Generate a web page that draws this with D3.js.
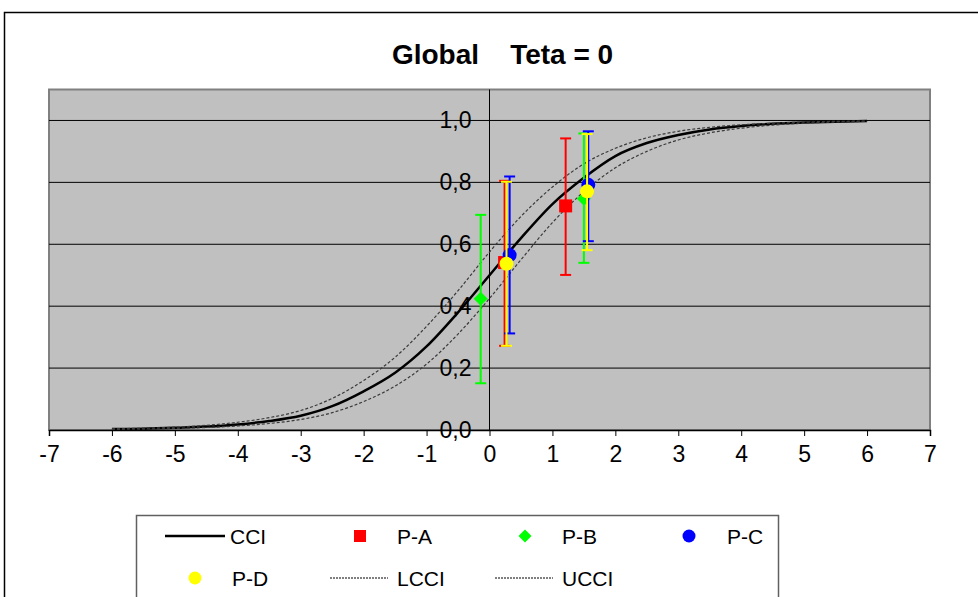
<!DOCTYPE html>
<html lang="en">
<head>
    <meta charset="UTF-8">
    <title>Global Teta = 0</title>
    <style>
        body {
            margin: 0;
            background-color: #ffffff;
        }
        svg {
            display: block;
        }
        text {
            font-family: "Liberation Sans", Arial, sans-serif;
            fill: #000;
        }
    </style>
    <script src="https://d3js.org/d3.v7.min.js"></script>
</head>
<body>
    <svg width="978" height="597"></svg>

    <script>
        // curve values (theta from -6 to 6)
        const curveX = [-6, -5.5, -5, -4.5, -4, -3.5, -3, -2.5, -2, -1.5, -1, -0.5, 0, 0.5, 1, 1.5, 2, 2.5, 3, 3.5, 4, 4.5, 5, 5.5, 6];
        const cci  = [0.003, 0.004, 0.007, 0.011, 0.018, 0.029, 0.046, 0.077, 0.125, 0.185, 0.27, 0.38, 0.50, 0.62, 0.73, 0.815, 0.885, 0.927, 0.953, 0.971, 0.982, 0.989, 0.993, 0.996, 0.998];
        const ucci = [0.004, 0.006, 0.009, 0.015, 0.025, 0.04, 0.063, 0.102, 0.16, 0.235, 0.335, 0.45, 0.575, 0.69, 0.785, 0.86, 0.91, 0.944, 0.965, 0.978, 0.986, 0.991, 0.995, 0.997, 0.998];
        const lcci = [0.002, 0.003, 0.005, 0.008, 0.013, 0.021, 0.034, 0.056, 0.092, 0.142, 0.213, 0.31, 0.425, 0.55, 0.67, 0.77, 0.847, 0.9, 0.937, 0.96, 0.975, 0.985, 0.991, 0.995, 0.997];

        // points with error bars: x, y, low, high
        const paX = [0.24, 1.21],  paY = [0.541, 0.724], paLo = [0.272, 0.501], paHi = [0.805, 0.942];
        const pbX = [-0.14, 1.50], pbY = [0.424, 0.747], pbLo = [0.151, 0.540], pbHi = [0.695, 0.958];
        const pcX = [0.32, 1.57],  pcY = [0.565, 0.792], pcLo = [0.312, 0.610], pcHi = [0.819, 0.965];
        const pdX = [0.27, 1.55],  pdY = [0.537, 0.771], pdLo = [0.272, 0.581], pdHi = [0.802, 0.956];

        const xTicks = [-7, -6, -5, -4, -3, -2, -1, 0, 1, 2, 3, 4, 5, 6, 7];
        const yTicks = [0, 0.2, 0.4, 0.6, 0.8, 1.0];

        const svg = d3.select("svg");

        const x = d3.scaleLinear().domain([-7, 7]).range([49, 930]);
        const y = d3.scaleLinear().domain([0, 1.1]).range([430, 89.5]);

        // outer frame
        svg.append("rect")
            .attr("x", 4.5).attr("y", 12.5)
            .attr("width", 990).attr("height", 600)
            .attr("fill", "white").attr("stroke", "#000").attr("stroke-width", 1.5);

        // title
        svg.append("text")
            .attr("x", 502.5).attr("y", 64)
            .attr("text-anchor", "middle")
            .attr("xml:space", "preserve")
            .style("white-space", "pre")
            .style("font-size", "28px")
            .style("font-weight", "bold")
            .text("Global    Teta = 0");

        // plot area
        svg.append("rect")
            .attr("x", x(-7)).attr("y", y(1.1))
            .attr("width", x(7) - x(-7)).attr("height", y(0) - y(1.1))
            .attr("fill", "#c0c0c0").attr("stroke", "#808080").attr("stroke-width", 2);

        // horizontal grid lines
        svg.selectAll("line.grid")
            .data(yTicks.filter(d => d > 0))
            .enter().append("line")
            .attr("class", "grid")
            .attr("x1", x(-7)).attr("x2", x(7))
            .attr("y1", d => y(d)).attr("y2", d => y(d))
            .attr("stroke", "#000").attr("stroke-width", 1);

        // vertical axis at x = 0
        svg.append("line")
            .attr("x1", x(0)).attr("x2", x(0))
            .attr("y1", y(1.1)).attr("y2", y(0))
            .attr("stroke", "#000").attr("stroke-width", 1);

        // x axis
        const xAxis = d3.axisBottom(x).tickValues(xTicks).tickSize(6).tickPadding(10).tickFormat(d3.format("d"));
        const gx = svg.append("g").attr("transform", `translate(0,${y(0)})`).call(xAxis);
        gx.select(".domain").attr("stroke", "#000").attr("stroke-width", 1.5);
        gx.selectAll(".tick line").attr("stroke", "#000");
        gx.selectAll(".tick text")
            .style("font-size", "23px")
            .style("font-family", "'Liberation Sans', Arial, sans-serif")
            .attr("fill", "#000")
            .text(d => d < 0 ? "-" + Math.abs(d) : d);

        // y tick labels sit next to the axis at x = 0
        svg.selectAll("text.ylab")
            .data(yTicks)
            .enter().append("text")
            .attr("class", "ylab")
            .attr("x", x(0) - 18)
            .attr("y", d => y(d) + 8)
            .attr("text-anchor", "end")
            .style("font-size", "23px")
            .text(d => d3.format(".1f")(d).replace(".", ","));

        // curves
        const line = d3.line()
            .x(d => x(d[0]))
            .y(d => y(d[1]))
            .curve(d3.curveMonotoneX);

        svg.append("path")
            .datum(curveX.map((v, i) => [v, cci[i]]))
            .attr("d", line)
            .attr("fill", "none").attr("stroke", "#000").attr("stroke-width", 2.5);

        [lcci, ucci].forEach(arr => {
            svg.append("path")
                .datum(curveX.map((v, i) => [v, arr[i]]))
                .attr("d", line)
                .attr("fill", "none").attr("stroke", "#3a3a3a")
                .attr("stroke-width", 1.2).attr("stroke-dasharray", "3,2");
        });

        // point series with error bars
        const series = [
            { xs: paX, ys: paY, lo: paLo, hi: paHi, color: "#ff0000", shape: "square" },
            { xs: pbX, ys: pbY, lo: pbLo, hi: pbHi, color: "#00ff00", shape: "diamond" },
            { xs: pcX, ys: pcY, lo: pcLo, hi: pcHi, color: "#0000ff", shape: "circle" },
            { xs: pdX, ys: pdY, lo: pdLo, hi: pdHi, color: "#ffff00", shape: "circle" }
        ];

        function marker(g, shape, color) {
            if (shape === "square") {
                g.append("rect").attr("x", -6.5).attr("y", -6.5).attr("width", 13).attr("height", 13).attr("fill", color);
            } else if (shape === "diamond") {
                g.append("path").attr("d", "M0,-7L7,0L0,7L-7,0Z").attr("fill", color);
            } else {
                g.append("circle").attr("r", 7).attr("fill", color);
            }
        }

        series.forEach(s => {
            const pts = s.xs.map((v, i) => ({ x: v, y: s.ys[i], lo: s.lo[i], hi: s.hi[i] }));
            const g = svg.append("g");
            pts.forEach(p => {
                g.append("line")
                    .attr("x1", x(p.x)).attr("x2", x(p.x))
                    .attr("y1", y(p.lo)).attr("y2", y(p.hi))
                    .attr("stroke", s.color).attr("stroke-width", 2);
                [p.lo, p.hi].forEach(v => {
                    g.append("line")
                        .attr("x1", x(p.x) - 5.5).attr("x2", x(p.x) + 5.5)
                        .attr("y1", y(v)).attr("y2", y(v))
                        .attr("stroke", s.color).attr("stroke-width", 2);
                });
            });
            pts.forEach(p => {
                const m = g.append("g").attr("transform", `translate(${x(p.x)},${y(p.y)})`);
                marker(m, s.shape, s.color);
            });
        });

        // legend
        svg.append("rect")
            .attr("x", 136.5).attr("y", 515.5)
            .attr("width", 642).attr("height", 100)
            .attr("fill", "white").attr("stroke", "#606060").attr("stroke-width", 1.5);

        const legendItems = [
            { label: "CCI",  kind: "line",   color: "#000",    sx: 165, tx: 230, row: 0 },
            { label: "P-A",  kind: "square", color: "#ff0000", sx: 360, tx: 397, row: 0 },
            { label: "P-B",  kind: "diamond", color: "#00ff00", sx: 525, tx: 562, row: 0 },
            { label: "P-C",  kind: "circle", color: "#0000ff", sx: 689, tx: 727, row: 0 },
            { label: "P-D",  kind: "circle", color: "#ffff00", sx: 195, tx: 232, row: 1 },
            { label: "LCCI", kind: "dash",   color: "#000",    sx: 330, tx: 397, row: 1 },
            { label: "UCCI", kind: "dash",   color: "#000",    sx: 495, tx: 562, row: 1 }
        ];

        legendItems.forEach(d => {
            const cy = d.row === 0 ? 536 : 578;
            if (d.kind === "line") {
                svg.append("line").attr("x1", d.sx).attr("x2", d.sx + 60).attr("y1", cy).attr("y2", cy)
                    .attr("stroke", d.color).attr("stroke-width", 2.5);
            } else if (d.kind === "dash") {
                svg.append("line").attr("x1", d.sx).attr("x2", d.sx + 58).attr("y1", cy).attr("y2", cy)
                    .attr("stroke", d.color).attr("stroke-width", 1).attr("stroke-dasharray", "2,1");
            } else if (d.kind === "square") {
                svg.append("rect").attr("x", d.sx - 6).attr("y", cy - 6).attr("width", 12).attr("height", 12).attr("fill", d.color);
            } else if (d.kind === "diamond") {
                svg.append("path").attr("d", `M${d.sx},${cy - 6.5}L${d.sx + 6.5},${cy}L${d.sx},${cy + 6.5}L${d.sx - 6.5},${cy}Z`).attr("fill", d.color);
            } else {
                svg.append("circle").attr("cx", d.sx).attr("cy", cy).attr("r", 6.5).attr("fill", d.color);
            }
            svg.append("text")
                .attr("x", d.tx).attr("y", cy + 7.5)
                .style("font-size", "21px")
                .text(d.label);
        });
    </script>
</body>
</html>
